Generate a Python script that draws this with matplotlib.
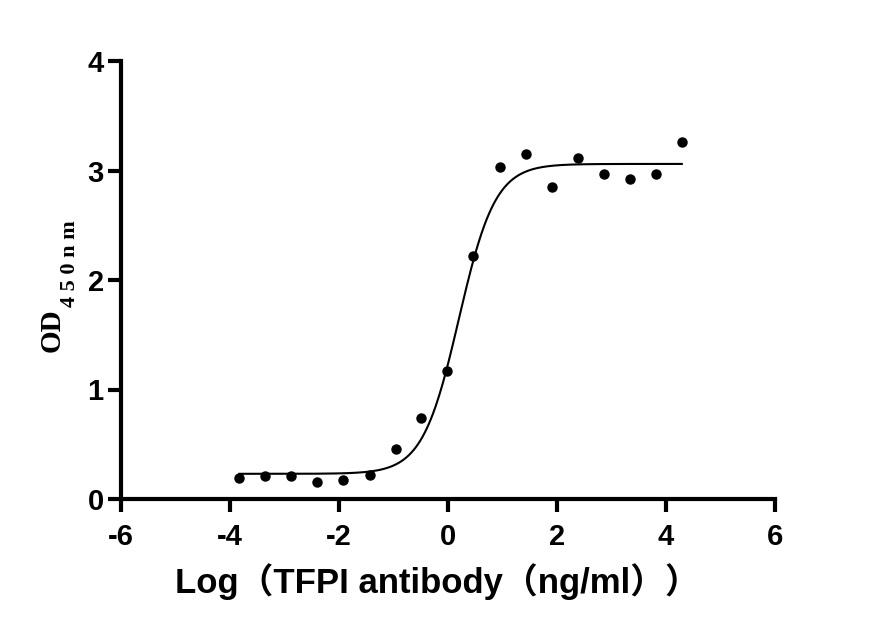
import numpy as np
import matplotlib.pyplot as plt

# dados (log da concentração, OD450)
log_conc = [-3.83, -3.35, -2.88, -2.40, -1.92, -1.44, -0.96, -0.49, -0.01,
            0.46, 0.95, 1.43, 1.90, 2.38, 2.86, 3.34, 3.81, 4.29]
od450 = [0.19, 0.21, 0.21, 0.155, 0.17, 0.22, 0.46, 0.74, 1.17,
         2.22, 3.03, 3.15, 2.85, 3.11, 2.97, 2.92, 2.97, 3.26]

# parâmetros do ajuste 4PL (curva desenhada)
bottom, top, log_ec50, hill = 0.23, 3.06, 0.20, 1.3

x_ticks = [-6, -4, -2, 0, 2, 4, 6]
y_ticks = [0, 1, 2, 3, 4]

plt.rcParams['axes.unicode_minus'] = False

W, H = 875, 633
fig = plt.figure(figsize=(W / 100, H / 100), dpi=100)
ax = fig.add_axes([121 / W, 1 - 499 / H, 654 / W, 438 / H])

xs = np.linspace(min(log_conc), max(log_conc), 400)
curva = bottom + (top - bottom) / (1 + 10 ** ((log_ec50 - xs) * hill))
ax.plot(xs, curva, color='black', lw=1.5)
ax.plot(log_conc, od450, 'o', color='black', ms=6.5)

ax.set_xlim(-6, 6)
ax.set_ylim(0, 4)
ax.set_xticks(x_ticks)
ax.set_yticks(y_ticks)
for s in ['top', 'right']:
    ax.spines[s].set_visible(False)
for s in ['left', 'bottom']:
    ax.spines[s].set_linewidth(3)
ax.tick_params(axis='both', direction='out', length=9.5, width=3)
ax.tick_params(axis='x', pad=8)
ax.tick_params(axis='y', pad=3)

for lab in ax.get_xticklabels() + ax.get_yticklabels():
    lab.set_fontfamily('Liberation Sans')
    lab.set_fontweight('bold')
    lab.set_fontsize(21)

ax.set_xlabel('Log（TFPI antibody（ng/ml））', fontsize=25, fontweight='bold',
              family=['Liberation Sans', 'Noto Sans CJK SC'])
ax.xaxis.set_label_coords(0.5 - 11 / 654, -64 / 438)

# rótulo do eixo y: OD com subscrito 450nm (fonte serifada)
fig.text(60 / W, 1 - 352 / H, 'OD', rotation=90, rotation_mode='anchor',
         ha='left', va='baseline', fontsize=21, fontweight='bold',
         family='Liberation Serif')
fig.text(75 / W, 1 - 307 / H, '4 5 0 n m', rotation=90, rotation_mode='anchor',
         ha='left', va='baseline', fontsize=16, fontweight='bold',
         family='Liberation Serif')

fig.savefig('out.png', dpi=100)
